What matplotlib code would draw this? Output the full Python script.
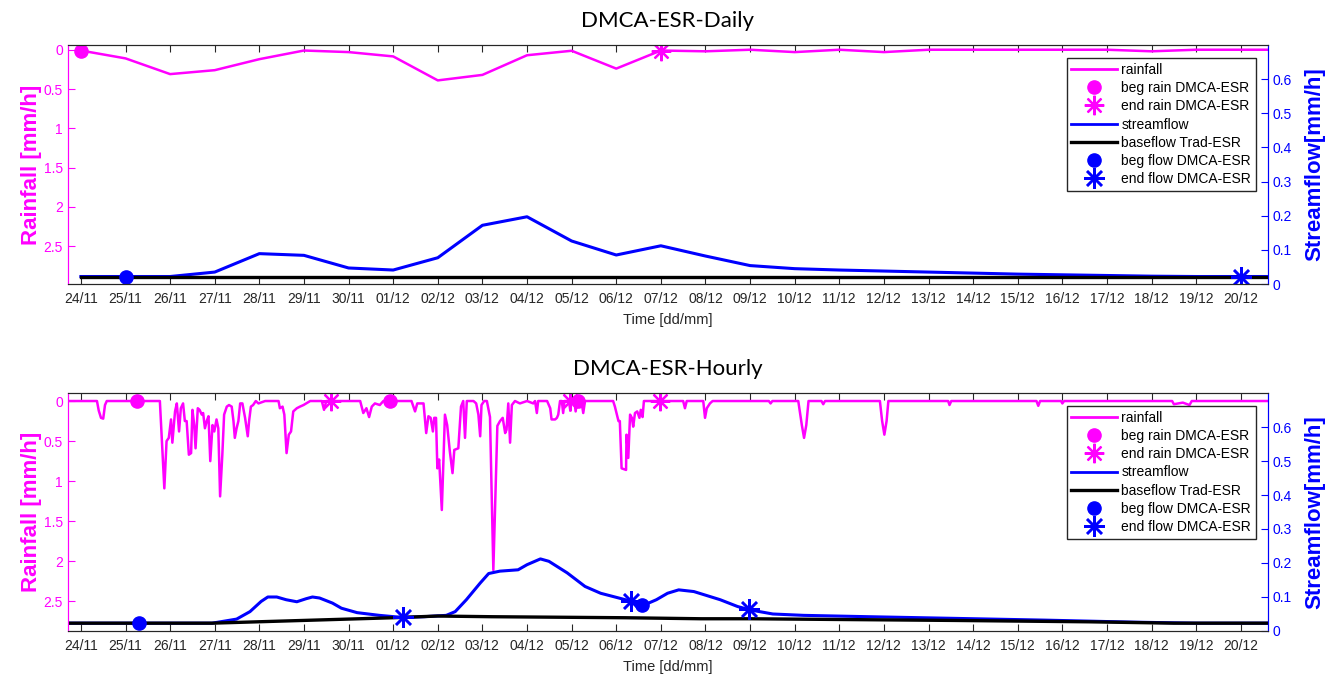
import matplotlib
matplotlib.use("Agg")
import matplotlib.pyplot as plt
from matplotlib.lines import Line2D

plt.rcParams['font.family'] = ['Liberation Sans', 'DejaVu Sans']

# ---- data (days counted from 24/11) ----
day_labels = ['24/11', '25/11', '26/11', '27/11', '28/11', '29/11', '30/11', '01/12',
              '02/12', '03/12', '04/12', '05/12', '06/12', '07/12', '08/12', '09/12',
              '10/12', '11/12', '12/12', '13/12', '14/12', '15/12', '16/12', '17/12',
              '18/12', '19/12', '20/12']

# daily series, one value per day 24/11 .. 21/12
daily_rain = [0.01, 0.11, 0.31, 0.26, 0.12, 0.01, 0.03, 0.085, 0.39, 0.32, 0.07, 0.013,
              0.24, 0.01, 0.02, 0.0, 0.03, 0.0, 0.03, 0.0, 0.0, 0.0, 0.0, 0.0, 0.02,
              0.0, 0.0, 0.0]
daily_flow = [0.022, 0.022, 0.022, 0.035, 0.089, 0.084, 0.047, 0.041, 0.077, 0.172,
              0.197, 0.126, 0.085, 0.112, 0.082, 0.054, 0.045, 0.041, 0.038, 0.035,
              0.032, 0.029, 0.027, 0.025, 0.023, 0.022, 0.022, 0.022]
daily_base = [0.022] * 28

daily_beg_rain_t, daily_beg_rain_v = [0], [0.01]
daily_end_rain_t, daily_end_rain_v = [13], [0.01]
daily_beg_flow_t, daily_beg_flow_v = [1], [0.022]
daily_end_flow_t, daily_end_flow_v = [26], [0.022]

# hourly series (vertices)
hourly_rain_t = [-0.3, 0.36, 0.40, 0.45, 0.50, 0.54, 0.58, 1.77, 1.87, 1.92, 1.97, 2.02,
                 2.05, 2.11, 2.15, 2.20, 2.24, 2.29, 2.33, 2.37, 2.42, 2.47, 2.50, 2.54,
                 2.57, 2.62, 2.66, 2.71, 2.74, 2.78, 2.82, 2.86, 2.90, 2.95, 2.99, 3.04,
                 3.08, 3.12, 3.17, 3.21, 3.27, 3.32, 3.38, 3.42, 3.45, 3.49, 3.53, 3.57,
                 3.62, 3.68, 3.74, 3.77, 3.81, 3.86, 3.92, 3.98, 4.13, 4.28, 4.43, 4.46,
                 4.52, 4.56, 4.61, 4.66, 4.71, 4.76, 4.84, 4.91, 4.99, 5.14, 5.40, 5.45,
                 5.50, 6.26, 6.33, 6.40, 6.46, 6.52, 6.59, 6.70, 6.78, 7.41, 7.49, 7.54,
                 7.68, 7.74, 7.79, 7.84, 7.89, 7.92, 7.96, 7.99, 8.03, 8.09, 8.16, 8.21,
                 8.27, 8.33, 8.37, 8.46, 8.52, 8.57, 8.61, 8.65, 8.80, 8.86, 8.91, 8.95,
                 8.98, 9.04, 9.10, 9.17, 9.245, 9.335, 9.395, 9.455, 9.51, 9.54, 9.58,
                 9.62, 9.66, 9.73, 9.84, 10.0, 10.14, 10.18, 10.22, 10.25, 10.45, 10.52,
                 10.55, 10.63, 10.67, 10.70, 10.74, 10.78, 10.81, 10.84, 10.94, 10.97,
                 11.0, 11.06, 11.09, 11.12, 11.22, 11.26, 11.30, 11.93, 11.97, 12.05,
                 12.08, 12.12, 12.22, 12.23, 12.27, 12.31, 12.35, 12.38, 12.42, 12.47,
                 12.52, 12.55, 12.59, 12.62, 13.50, 13.54, 13.58, 13.95, 13.99, 14.03,
                 14.10, 14.16, 15.42, 15.46, 15.50, 16.08, 16.16, 16.21, 16.26, 16.31,
                 16.60, 16.64, 16.68, 17.91, 17.96, 18.01, 18.06, 18.10, 19.44, 19.47,
                 19.51, 21.42, 21.46, 21.50, 21.97, 22.0, 22.04, 24.46, 24.5, 24.7,
                 24.85, 24.9, 26.7]
hourly_rain_v = [0.0, 0.0, 0.12, 0.21, 0.22, 0.05, 0.0, 0.0, 1.09, 0.50, 0.46, 0.23,
                 0.52, 0.13, 0.03, 0.38, 0.09, 0.03, 0.25, 0.25, 0.67, 0.65, 0.11, 0.30,
                 0.59, 0.09, 0.11, 0.17, 0.15, 0.34, 0.25, 0.19, 0.75, 0.30, 0.38, 0.23,
                 0.34, 1.19, 0.67, 0.17, 0.07, 0.05, 0.07, 0.25, 0.46, 0.34, 0.25, 0.03,
                 0.03, 0.21, 0.44, 0.25, 0.07, 0.05, 0.0, 0.03, 0.0, 0.0, 0.0, 0.09,
                 0.07, 0.17, 0.65, 0.42, 0.38, 0.13, 0.09, 0.07, 0.05, 0.0, 0.0, 0.11,
                 0.0, 0.0, 0.15, 0.09, 0.20, 0.07, 0.03, 0.05, 0.0, 0.0, 0.13, 0.03,
                 0.03, 0.40, 0.19, 0.21, 0.38, 0.21, 0.21, 0.84, 0.73, 1.36, 0.17, 0.30,
                 0.63, 0.90, 0.61, 0.59, 0.07, 0.0, 0.46, 0.0, 0.0, 0.03, 0.17, 0.44,
                 0.05, 0.0, 0.0, 0.2, 2.11, 0.31, 0.25, 0.21, 0.40, 0.36, 0.03,
                 0.52, 0.05, 0.0, 0.03, 0.0, 0.03, 0.0, 0.15, 0.0, 0.0, 0.09,
                 0.23, 0.23, 0.21, 0.17, 0.0, 0.0, 0.15, 0.0, 0.0, 0.12,
                 0.0, 0.0, 0.13, 0.0, 0.0, 0.15, 0.0, 0.0, 0.07, 0.25,
                 0.25, 0.84, 0.86, 0.42, 0.71, 0.17, 0.21, 0.32, 0.15, 0.13,
                 0.21, 0.11, 0.20, 0.0, 0.0, 0.09, 0.0, 0.0, 0.21, 0.09,
                 0.03, 0.0, 0.0, 0.03, 0.0, 0.0, 0.30, 0.46, 0.30, 0.0,
                 0.0, 0.04, 0.0, 0.0, 0.25, 0.42, 0.25, 0.0, 0.0, 0.05,
                 0.0, 0.0, 0.06, 0.0, 0.0, 0.03, 0.0, 0.0, 0.04, 0.02,
                 0.05, 0.0, 0.0]

hourly_flow_t = [-0.3, 2.94, 3.49, 3.79, 4.04, 4.19, 4.39, 4.60, 4.84, 5.05, 5.19, 5.35,
                 5.64, 5.84, 6.19, 6.69, 7.19, 7.69, 8.19, 8.39, 8.64, 8.95, 9.14, 9.39,
                 9.80, 10.0, 10.30, 10.49, 10.90, 11.30, 11.65, 12.35, 12.60, 12.90,
                 13.15, 13.40, 13.74, 14.33, 14.72, 15.0, 15.51, 16.2, 17.67, 19.64,
                 21.6, 23.6, 25.0, 26.7]
hourly_flow_v = [0.023, 0.023, 0.035, 0.057, 0.087, 0.100, 0.100, 0.092, 0.086, 0.095,
                 0.100, 0.097, 0.082, 0.067, 0.054, 0.046, 0.040, 0.042, 0.046, 0.057,
                 0.092, 0.141, 0.169, 0.176, 0.180, 0.195, 0.212, 0.205, 0.171, 0.131,
                 0.111, 0.087, 0.075, 0.092, 0.111, 0.121, 0.116, 0.092, 0.072, 0.062,
                 0.050, 0.046, 0.042, 0.037, 0.032, 0.026, 0.023, 0.023]

hourly_base_t = [-0.3, 2.94, 7.0, 8.0, 9.2, 12.2, 13.9, 15.0, 19.6, 22.6, 24.5, 26.7]
hourly_base_v = [0.023, 0.023, 0.039, 0.044, 0.042, 0.039, 0.036, 0.036, 0.031, 0.027,
                 0.023, 0.023]

hourly_beg_rain_t, hourly_beg_rain_v = [1.26, 6.93, 11.14], [0.0, 0.0, 0.0]
hourly_end_rain_t, hourly_end_rain_v = [5.61, 10.96, 12.98], [0.0, 0.0, 0.0]
hourly_beg_flow_t, hourly_beg_flow_v = [1.30, 12.58], [0.023, 0.077]
hourly_end_flow_t, hourly_end_flow_v = [7.23, 12.33, 14.98], [0.041, 0.089, 0.065]

MAG = '#ff00ff'
BLUE = '#0000ff'
ASTER = (8, 2, 0)


def draw_panel(rect, title, rain_t, rain_v, flow_t, flow_v, base_t, base_v,
               br, er, bf, ef, rain_lim):
    ax = fig.add_axes(rect)
    ax2 = ax.twinx()

    ax.plot(rain_t, rain_v, color=MAG, lw=1.8)
    ax.plot(br[0], br[1], 'o', color=MAG, ms=9.5)
    ax.plot(er[0], er[1], ls='none', marker=ASTER, ms=14, mec=MAG, mew=1.6)

    ax2.plot(flow_t, flow_v, color=BLUE, lw=2.2)
    ax2.plot(base_t, base_v, color='black', lw=2.4)
    ax2.plot(bf[0], bf[1], 'o', color=BLUE, ms=9.5)
    ax2.plot(ef[0], ef[1], ls='none', marker=ASTER, ms=15, mec=BLUE, mew=1.8)

    ax.set_xlim(-0.29, 26.61)
    ax.set_ylim(rain_lim)
    ax.set_yticks([0, 0.5, 1, 1.5, 2, 2.5])
    ax.set_yticklabels(['0', '0.5', '1', '1.5', '2', '2.5'])
    ax2.set_ylim(0, 0.70)
    ax2.set_yticks([0, 0.1, 0.2, 0.3, 0.4, 0.5, 0.6])
    ax2.set_yticklabels(['0', '0.1', '0.2', '0.3', '0.4', '0.5', '0.6'])
    ax.set_xticks(range(len(day_labels)))
    ax.set_xticklabels(day_labels)

    ax.tick_params(axis='x', direction='in', length=5, top=True, colors='#262626',
                   labelsize=10, pad=6)
    ax.tick_params(axis='y', direction='in', length=5, colors=MAG, labelsize=10)
    ax2.tick_params(axis='y', direction='in', length=5, colors=BLUE, labelsize=10)
    for a in (ax, ax2):
        a.spines['left'].set_color(MAG)
        a.spines['right'].set_color(BLUE)
        a.spines['top'].set_color('#262626')
        a.spines['bottom'].set_color('#262626')

    ax.set_ylabel('Rainfall [mm/h]', color=MAG, fontsize=16, fontweight='bold',
                  labelpad=1)
    ax2.set_ylabel('Streamflow[mm/h]', color=BLUE, fontsize=16, fontweight='bold',
                   labelpad=9)
    ax.set_xlabel('Time [dd/mm]', fontsize=10.5, color='#262626', labelpad=5)
    ax.set_title(title, fontsize=16, family=['Lato', 'DejaVu Sans'], pad=13)

    handles = [
        Line2D([], [], color=MAG, lw=2),
        Line2D([], [], ls='none', marker='o', color=MAG, ms=9.5),
        Line2D([], [], ls='none', marker=ASTER, ms=14, mec=MAG, mew=1.6),
        Line2D([], [], color=BLUE, lw=2),
        Line2D([], [], color='black', lw=2.4),
        Line2D([], [], ls='none', marker='o', color=BLUE, ms=9.5),
        Line2D([], [], ls='none', marker=ASTER, ms=15, mec=BLUE, mew=1.8),
    ]
    labels = ['rainfall', 'beg rain DMCA-ESR', 'end rain DMCA-ESR', 'streamflow',
              'baseflow Trad-ESR', 'beg flow DMCA-ESR', 'end flow DMCA-ESR']
    leg = ax2.legend(handles, labels, loc='upper right', bbox_to_anchor=(0.99, 0.945),
                     fontsize=10, frameon=True, fancybox=False, framealpha=1,
                     edgecolor='#262626', borderpad=0.35, labelspacing=0.3,
                     handlelength=3.3, handletextpad=0.3, borderaxespad=0)
    leg.get_frame().set_linewidth(1.0)
    return ax, ax2


fig = plt.figure(figsize=(13.38, 6.79), dpi=100)

days = list(range(len(daily_rain)))
draw_panel([0.0508, 0.5817, 0.8969, 0.352], 'DMCA-ESR-Daily',
           days, daily_rain, days, daily_flow, days, daily_base,
           (daily_beg_rain_t, daily_beg_rain_v), (daily_end_rain_t, daily_end_rain_v),
           (daily_beg_flow_t, daily_beg_flow_v), (daily_end_flow_t, daily_end_flow_v),
           (2.98, -0.06))

draw_panel([0.0508, 0.0707, 0.8969, 0.3505], 'DMCA-ESR-Hourly',
           hourly_rain_t, hourly_rain_v, hourly_flow_t, hourly_flow_v,
           hourly_base_t, hourly_base_v,
           (hourly_beg_rain_t, hourly_beg_rain_v), (hourly_end_rain_t, hourly_end_rain_v),
           (hourly_beg_flow_t, hourly_beg_flow_v), (hourly_end_flow_t, hourly_end_flow_v),
           (2.87, -0.1))

fig.savefig('out.png', dpi=100)
